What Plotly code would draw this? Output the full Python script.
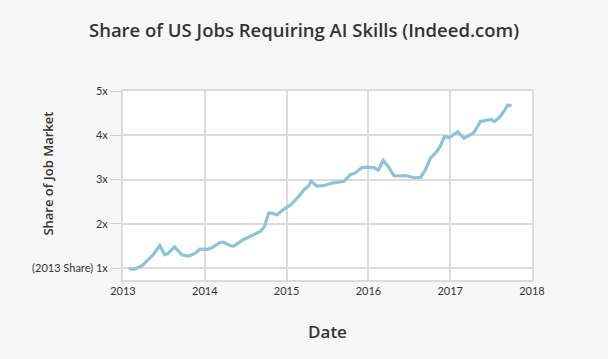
import plotly.graph_objects as go

years = [2013.07, 2013.13, 2013.23, 2013.37, 2013.45, 2013.51, 2013.55, 2013.63, 2013.72, 2013.80,
         2013.88, 2013.94, 2014.03, 2014.08, 2014.19, 2014.23, 2014.31, 2014.35, 2014.47, 2014.60,
         2014.68, 2014.73, 2014.78, 2014.82, 2014.88, 2014.96, 2015.05, 2015.13, 2015.21, 2015.27,
         2015.30, 2015.37, 2015.45, 2015.56, 2015.70, 2015.78, 2015.84, 2015.92, 2015.99, 2016.07,
         2016.12, 2016.18, 2016.24, 2016.31, 2016.39, 2016.46, 2016.56, 2016.64, 2016.70, 2016.76,
         2016.84, 2016.88, 2016.93, 2016.99, 2017.09, 2017.17, 2017.21, 2017.29, 2017.37, 2017.43,
         2017.50, 2017.54, 2017.60, 2017.66, 2017.70, 2017.75]
share = [0.99, 0.97, 1.05, 1.30, 1.51, 1.30, 1.33, 1.48, 1.30, 1.27,
         1.33, 1.43, 1.42, 1.45, 1.58, 1.58, 1.51, 1.49, 1.64, 1.75,
         1.83, 1.94, 2.24, 2.24, 2.20, 2.32, 2.43, 2.58, 2.76, 2.86,
         2.96, 2.85, 2.86, 2.92, 2.96, 3.11, 3.15, 3.27, 3.28, 3.27,
         3.21, 3.43, 3.30, 3.09, 3.08, 3.09, 3.04, 3.05, 3.23, 3.49,
         3.64, 3.76, 3.97, 3.95, 4.08, 3.93, 3.98, 4.06, 4.31, 4.33,
         4.36, 4.31, 4.40, 4.55, 4.68, 4.67]

x_ticks = [2013, 2014, 2015, 2016, 2017, 2018]
x_labels = ["2013", "2014", "2015", "2016", "2017", "2018"]
y_ticks = [1, 2, 3, 4, 5]
y_labels = ["(2013 Share) 1x", "2x", "3x", "4x", "5x"]

fig = go.Figure()
fig.add_trace(go.Scatter(x=years, y=share, mode="lines",
                         line=dict(color="#8cc3d9", width=3.2), hoverinfo="skip"))

font = "Lato, 'Open Sans', sans-serif"
tfont = "'Open Sans', sans-serif"
fig.update_layout(
    width=608, height=359,
    margin=dict(l=123, r=76, t=91, b=79),
    paper_bgcolor="#f7f7f7", plot_bgcolor="#ffffff",
    showlegend=False,
    font=dict(family=font, color="#333333", size=11),
    title=dict(text="Share of US Jobs Requiring AI Skills (Indeed.com)",
               x=0.5, xanchor="center", y=0.915, yanchor="middle",
               font=dict(size=18.5, color="#333333", family=tfont, weight=600)),
    xaxis=dict(range=[2013, 2018], tickvals=x_ticks, ticktext=x_labels,
               showgrid=True, gridcolor="#dcdcdc", gridwidth=1.5,
               showline=True, linecolor="#dcdcdc", linewidth=2, mirror=True,
               zeroline=False, ticks="", tickfont=dict(size=11, color="#333"),
               title=dict(text="Date", font=dict(size=17, color="#333", family=tfont, weight=600),
                          standoff=30)),
    yaxis=dict(range=[0.73, 5.0], tickvals=y_ticks, ticktext=y_labels,
               showgrid=True, gridcolor="#dcdcdc", gridwidth=1.5,
               showline=True, linecolor="#dcdcdc", linewidth=2, mirror=True,
               zeroline=False, ticks="outside", ticklen=11, tickcolor="#d0d0d0",
               tickfont=dict(size=11, color="#333")),
    annotations=[dict(text="Share of Job Market", x=48, xref="paper", y=0.563, yref="paper",
                      showarrow=False, textangle=-90, xanchor="center", yanchor="middle",
                      font=dict(size=13, color="#333", family=tfont, weight=600))],
)
# convert annotation x from pixels to paper fraction
fig.layout.annotations[0].x = (48 - 123) / (608 - 123 - 76)

fig.write_html("out.html")
